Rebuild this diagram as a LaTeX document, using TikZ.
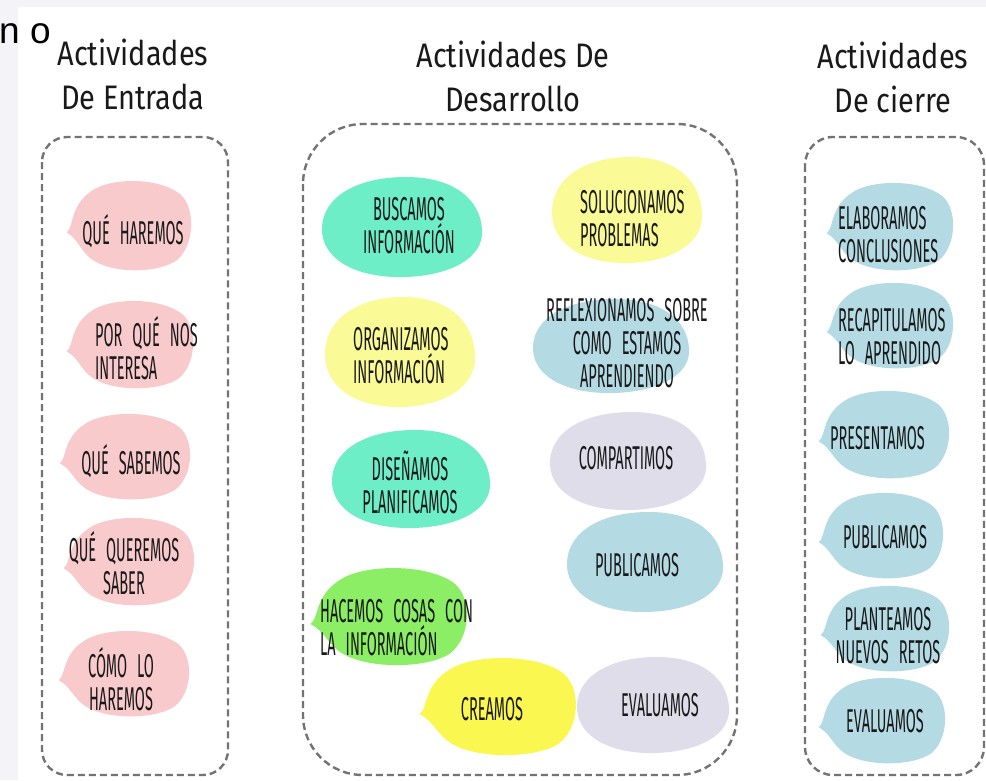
\documentclass[tikz,border=0pt]{standalone}
\usepackage{fontspec}
\setmainfont{Fira Sans}
\newfontfamily\blobfont[FakeStretch=0.44,WordSpace=2.6]{Fira Sans}
\newfontfamily\titlefont[FakeStretch=0.85]{Fira Sans}
\newfontfamily\uifont{Liberation Sans}
\definecolor{pinkb}{RGB}{248,202,204}
\definecolor{tealb}{RGB}{110,238,198}
\definecolor{yellowb}{RGB}{250,250,150}
\definecolor{blueb}{RGB}{180,218,228}
\definecolor{lavb}{RGB}{224,221,234}
\definecolor{greenb}{RGB}{140,238,100}
\definecolor{brightyel}{RGB}{250,248,80}
\definecolor{dashgray}{RGB}{115,115,115}
\definecolor{pagebg}{RGB}{244,243,248}
\definecolor{inkc}{RGB}{25,25,25}
\tikzset{
  lbl/.style={font=\blobfont\fontsize{33}{33}\selectfont, inner sep=0pt, anchor=base, align=center, text=inkc},
  lbll/.style={lbl, align=left, anchor=base west},
  ttl/.style={font=\titlefont\fontsize{34}{44}\selectfont, inner sep=0pt, anchor=base, align=center, text=inkc},
  panel/.style={draw=dashgray, line width=2.4pt, dash pattern=on 7pt off 4pt},
}
\newcommand\tailblob[5]{%
  \begin{scope}[shift={(#1,#2)},xscale=#3,yscale=#4]
    \fill[#5] (-1.02,0.14) .. controls (-0.9,0.02) and (-0.98,-0.5) .. (-0.55,-0.82)
      .. controls (-0.2,-1.06) and (0.5,-1.04) .. (0.82,-0.68)
      .. controls (1.06,-0.38) and (1.04,0.42) .. (0.76,0.74)
      .. controls (0.45,1.04) and (-0.3,1.04) .. (-0.62,0.72)
      .. controls (-0.8,0.54) and (-0.84,0.28) .. cycle;
  \end{scope}}
\newcommand\plainblob[5]{%
  \begin{scope}[shift={(#1,#2)},xscale=#3,yscale=#4]
    \fill[#5] (1,0.05) .. controls (1.03,0.62) and (0.6,0.98) .. (0.02,1)
      .. controls (-0.62,1.02) and (-1.02,0.6) .. (-1,0)
      .. controls (-0.98,-0.62) and (-0.55,-1.0) .. (0.05,-1)
      .. controls (0.65,-1.0) and (0.98,-0.55) .. cycle;
  \end{scope}}
\begin{document}
\begin{tikzpicture}[x=1pt,y=-1pt]
\useasboundingbox (0,0) rectangle (986,780);
\fill[pagebg] (0,0) rectangle (986,780);
\fill[white] (18,7) rectangle (986,780);
\node[font=\uifont\fontsize{37}{40}\selectfont, anchor=base west, inner sep=0pt] (cut) at (-1,43) {n o};

% panels
\draw[panel, rounded corners=25pt] (42,137) rectangle (228,775);
\draw[panel, rounded corners=60pt] (303,124) rectangle (737,775);
\draw[panel, rounded corners=28pt] (805,137) rectangle (984,775);

% titles (base = last line)
\node[ttl] (t1) at (133,109) {Actividades\\De Entrada};
\node[ttl] (t2) at (513,111) {Actividades De\\Desarrollo};
\node[ttl] (t3) at (893,112) {Actividades\\De cierre};

% left blobs
\tailblob{130}{226}{62}{46}{pinkb}
\tailblob{131}{345}{63}{45}{pinkb}
\tailblob{126}{457}{65}{44}{pinkb}
\tailblob{130}{562}{65}{45}{pinkb}
\tailblob{125}{674}{65}{44}{pinkb}

% middle blobs
\plainblob{402}{227}{80}{50}{tealb}
\plainblob{627}{210}{75}{53}{yellowb}
\plainblob{400}{352}{75}{55}{yellowb}
\plainblob{611}{346}{78}{47}{blueb}
\plainblob{411}{479}{79}{49}{tealb}
\plainblob{628}{461}{78}{49}{lavb}
\plainblob{645}{562}{78}{50}{blueb}
\tailblob{390}{617}{78}{50}{greenb}
\tailblob{499}{707}{78}{50}{brightyel}
\plainblob{653}{705}{76}{48}{lavb}

% right blobs
\tailblob{891}{227}{63}{45}{blueb}
\tailblob{891}{326}{63}{44}{blueb}
\tailblob{885}{435}{65}{45}{blueb}
\tailblob{882}{536}{62}{44}{blueb}
\tailblob{886}{629}{64}{44}{blueb}
\tailblob{883}{721}{63}{44}{blueb}

% left labels (base = last line)
\node[lbl] (q1) at (133,244) {QUÉ HAREMOS};
\node[lbll] (q2) at (95,379) {POR QUÉ NOS\\INTERESA};
\node[lbl] (q3) at (131,474) {QUÉ SABEMOS};
\node[lbl] (q4) at (124,594) {QUÉ QUEREMOS\\SABER};
\node[lbl] (q5) at (121,710) {CÓMO LO\\HAREMOS};

% middle labels
\node[lbl] (m1) at (409,253) {BUSCAMOS\\INFORMACIÓN};
\node[lbll] (m2) at (580,246) {SOLUCIONAMOS\\PROBLEMAS};
\node[lbll] (m3) at (353,383) {ORGANIZAMOS\\INFORMACIÓN};
\node[lbl] (m4) at (627,387) {REFLEXIONAMOS SOBRE\\COMO ESTAMOS\\APRENDIENDO};
\node[lbl] (m5) at (410,513) {DISEÑAMOS\\PLANIFICAMOS};
\node[lbl] (m6) at (626,469) {COMPARTIMOS};
\node[lbl] (m7) at (637,576) {PUBLICAMOS};
\node[lbll] (m8) at (320,655) {HACEMOS COSAS CON\\LA INFORMACIÓN};
\node[lbl] (m9) at (492,720) {CREAMOS};
\node[lbl] (m10) at (660,716) {EVALUAMOS};

% right labels
\node[lbll] (r1) at (838,262) {ELABORAMOS\\CONCLUSIONES};
\node[lbll] (r2) at (838,364) {RECAPITULAMOS\\LO APRENDIDO};
\node[lbll] (r3) at (830,449) {PRESENTAMOS};
\node[lbl] (r4) at (885,548) {PUBLICAMOS};
\node[lbl] (r5) at (888,663) {PLANTEAMOS\\NUEVOS RETOS};
\node[lbl] (r6) at (885,732) {EVALUAMOS};
\end{tikzpicture}
\end{document}
